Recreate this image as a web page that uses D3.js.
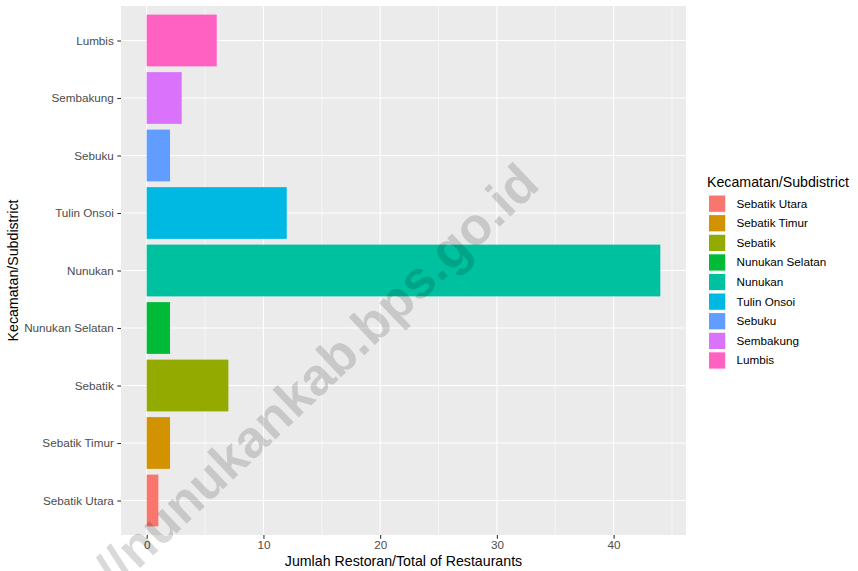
<!DOCTYPE html>
<html><head><meta charset="utf-8">
<script src="https://cdn.jsdelivr.net/npm/d3@7"></script>
<style>body{margin:0;background:#fff;}svg{display:block;font-family:"Liberation Sans",Arial,sans-serif;}</style>
</head><body>
<svg id="c" width="858" height="571"></svg>
<script>
const categories = ["Sebatik Utara","Sebatik Timur","Sebatik","Nunukan Selatan","Nunukan","Tulin Onsoi","Sebuku","Sembakung","Lumbis"];
const values = [1,2,7,2,44,12,2,3,6];
const colors = ["#F8766D","#D39200","#93AA00","#00BA38","#00C19F","#00B9E3","#619CFF","#DB72FB","#FF61C3"];
const xTicks = [0,10,20,30,40];
const xMinor = [5,15,25,35,45];
const xTitle = "Jumlah Restoran/Total of Restaurants";
const yTitle = "Kecamatan/Subdistrict";
const legendTitle = "Kecamatan/Subdistrict";
const watermark = "https://nunukankab.bps.go.id";

const svg = d3.select("#c");
const P = {l:121, r:686, t:6, b:535};
const maxV = d3.max(values);
const x = d3.scaleLinear().domain([-0.05*maxV, 1.05*maxV]).range([P.l, P.r]);
const yc = d3.scaleLinear().domain([0.4, categories.length+0.6]).range([P.b, P.t]);
const yPos = c => yc(categories.indexOf(c)+1);
const bw = (yc(0)-yc(0.9));
const lab = "11.7px", ttl = "14.2px";

svg.append("rect").attr("x",P.l).attr("y",P.t).attr("width",P.r-P.l).attr("height",P.b-P.t).attr("fill","#EBEBEB");
const g = svg.append("g");
g.selectAll(".mn").data(xMinor.filter(v=>x(v)<P.r)).enter().append("line")
  .attr("x1",d=>x(d)).attr("x2",d=>x(d)).attr("y1",P.t).attr("y2",P.b).attr("stroke","#fff").attr("stroke-width",0.55);
g.selectAll(".mj").data(xTicks).enter().append("line")
  .attr("x1",d=>x(d)).attr("x2",d=>x(d)).attr("y1",P.t).attr("y2",P.b).attr("stroke","#fff").attr("stroke-width",1.1);
g.selectAll(".my").data(categories).enter().append("line")
  .attr("x1",P.l).attr("x2",P.r).attr("y1",d=>yPos(d)).attr("y2",d=>yPos(d)).attr("stroke","#fff").attr("stroke-width",1.1);

g.selectAll(".bar").data(categories).enter().append("rect")
  .attr("x",x(0)).attr("y",d=>yPos(d)-bw/2)
  .attr("width",(d,i)=>x(values[i])-x(0)).attr("height",bw)
  .attr("fill",(d,i)=>colors[i]);

// axes
const xa = svg.append("g").attr("transform",`translate(0,${P.b})`)
  .call(d3.axisBottom(x).tickValues(xTicks).tickSize(3.7).tickPadding(2).tickFormat(d3.format("d")));
xa.select(".domain").remove();
xa.selectAll("line").attr("stroke","#333").attr("stroke-width",1.1);
xa.selectAll("text").attr("fill","#4D4D4D").attr("font-size",lab).attr("font-family","Liberation Sans, Arial, sans-serif");

const ya = svg.append("g").attr("transform",`translate(${P.l},0)`)
  .call(d3.axisLeft(d3.scalePoint().domain(categories).range([yPos(categories[0]), yPos(categories[categories.length-1])])).tickSize(3.7).tickPadding(3.5));
ya.select(".domain").remove();
ya.selectAll("line").attr("stroke","#333").attr("stroke-width",1.1);
ya.selectAll("text").attr("fill","#4D4D4D").attr("font-size",lab).attr("font-family","Liberation Sans, Arial, sans-serif");

svg.append("text").attr("x",(P.l+P.r)/2).attr("y",566).attr("text-anchor","middle")
  .attr("font-size",ttl).attr("fill","#000").text(xTitle);
svg.append("text").attr("transform",`translate(18,${(P.t+P.b)/2}) rotate(-90)`).attr("text-anchor","middle")
  .attr("font-size",ttl).attr("fill","#000").text(yTitle);

// legend
const lg = svg.append("g").attr("transform","translate(708,0)");
lg.append("text").attr("x",-1).attr("y",187).attr("font-size",ttl).attr("fill","#000").text(legendTitle);
const keys = lg.selectAll(".k").data(categories).enter().append("g")
  .attr("transform",(d,i)=>`translate(0,${194.5+i*19.6})`);
keys.append("rect").attr("x",0.5).attr("y",0.5).attr("width",17.3).attr("height",17.3)
  .attr("fill",(d,i)=>colors[i]).attr("stroke","#fff").attr("stroke-width",1);
keys.append("text").attr("x",28.5).attr("y",13.2).attr("font-size",lab).attr("fill","#000").text(d=>d);

// watermark
svg.append("text").attr("transform","translate(541.5,187) rotate(-43.5)")
  .attr("text-anchor","end").attr("font-size","52.5px").attr("font-weight","bold")
  .attr("fill","#000").attr("fill-opacity",0.15).text(watermark);
</script>
</body></html>
